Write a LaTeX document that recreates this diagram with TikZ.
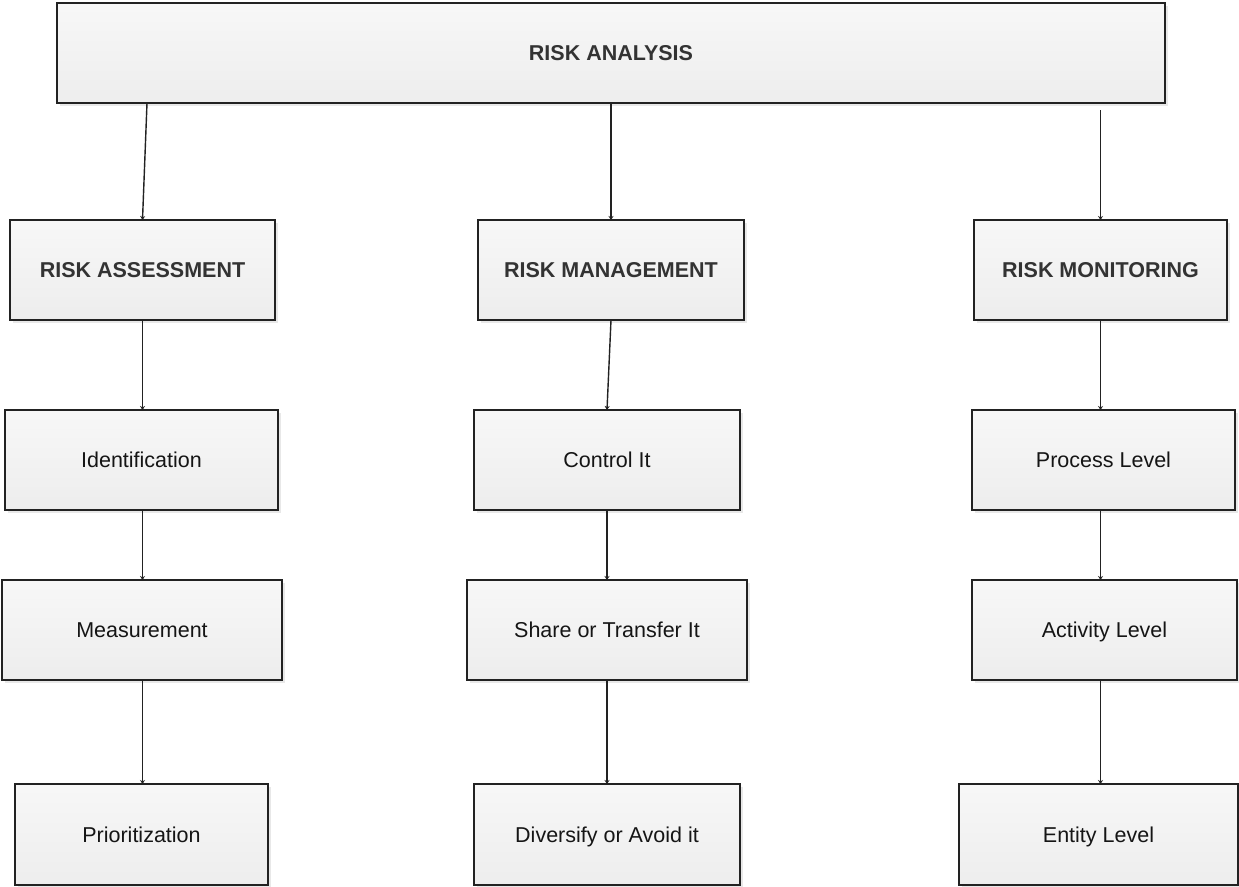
\documentclass[tikz,border=0pt]{standalone}
\usepackage{fontspec}
\setmainfont{Liberation Sans}
\usetikzlibrary{arrows.meta,shadows}
\definecolor{edge}{HTML}{222222}
\definecolor{headtext}{HTML}{333333}
\definecolor{bodytext}{HTML}{151515}
\tikzset{
  box/.style={draw=edge, line width=1.6pt, rectangle, outer sep=0pt, inner sep=0pt,
    top color=white!97!black, bottom color=white!93!black,
    drop shadow={shadow xshift=3pt, shadow yshift=-3pt, fill=black!9, opacity=1},
    font=\fontsize{21.5}{24}\selectfont, text=bodytext,
    text height=15.4pt, text depth=0pt},
  head/.style={box, font=\fontsize{21.5}{24}\selectfont\bfseries, text=headtext},
  conn/.style={draw=edge, line width=1.4pt, -{Stealth[length=4pt,width=5pt]}}
}
\begin{document}
\begin{tikzpicture}[x=1pt,y=-1pt]
\useasboundingbox (0,0) rectangle (1239,886);

% top level
\node[head, minimum width=1108pt, minimum height=100pt] (top) at (611,53) {RISK ANALYSIS};

% second level
\node[head, minimum width=265pt, minimum height=100pt] (ass) at (142.5,270) {RISK ASSESSMENT};
\node[head, minimum width=266pt, minimum height=100pt] (man) at (611,270) {RISK MANAGEMENT};
\node[head, minimum width=253pt, minimum height=100pt] (mon) at (1100.5,270) {RISK MONITORING};

% assessment column
\node[box, minimum width=273pt, minimum height=100pt] (ide) at (141.5,460) {Identification};
\node[box, minimum width=280pt, minimum height=100pt] (mea) at (142,630) {Measurement};
\node[box, minimum width=253pt, minimum height=101pt] (pri) at (141.5,834.5) {Prioritization};

% management column
\node[box, minimum width=266pt, minimum height=100pt] (con) at (607,460) {Control It};
\node[box, minimum width=280pt, minimum height=100pt] (sha) at (607,630) {Share or Transfer It};
\node[box, minimum width=266pt, minimum height=101pt] (div) at (607,834.5) {Diversify or Avoid it};

% monitoring column
\node[box, minimum width=263pt, minimum height=100pt] (pro) at (1103.5,460) {Process Level};
\node[box, minimum width=265pt, minimum height=100pt] (act) at (1104.5,630) {Activity Level};
\node[box, minimum width=279pt, minimum height=101pt] (ent) at (1098.5,834.5) {Entity Level};

% connectors
\draw[conn] ([xshift=-464pt]top.south) -- (ass.north);
\draw[conn] (top.south) -- (man.north);
\draw[conn] ([xshift=489.5pt,yshift=-7pt]top.south) -- (mon.north);

\draw[conn] (ass.south) -- (ass.south |- ide.north);
\draw[conn] (ass.south |- ide.south) -- (ass.south |- mea.north);
\draw[conn] (ass.south |- mea.south) -- (ass.south |- pri.north);

\draw[conn] (man.south) -- (con.north);
\draw[conn] (con.south) -- (sha.north);
\draw[conn] (sha.south) -- (div.north);

\draw[conn] (mon.south) -- (mon.south |- pro.north);
\draw[conn] (mon.south |- pro.south) -- (mon.south |- act.north);
\draw[conn] (mon.south |- act.south) -- (mon.south |- ent.north);
\end{tikzpicture}
\end{document}
